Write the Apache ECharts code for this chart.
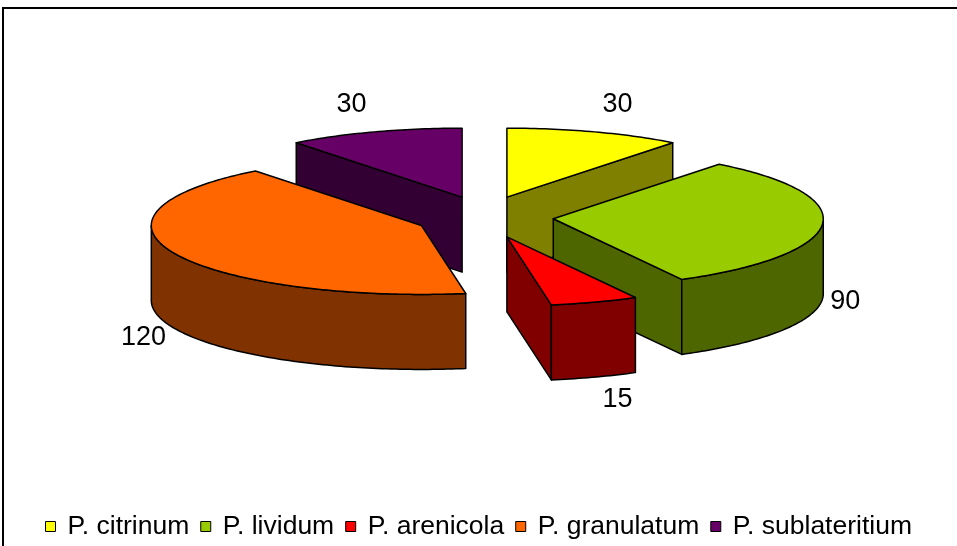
<!DOCTYPE html>
<html>
<head>
<meta charset="utf-8">
<script src="https://cdn.jsdelivr.net/npm/echarts@6/dist/echarts.min.js"></script>
<style>
  html, body { margin: 0; padding: 0; background: #fff; }
  #chart { width: 957px; height: 546px; }
</style>
</head>
<body>
<div id="chart"></div>
<script>
// data
var categories = ['P. citrinum', 'P. lividum', 'P. arenicola', 'P. granulatum', 'P. sublateritium'];
var values = [30, 90, 15, 120, 30];
var labels = values.map(String);

// colours (top face / side faces)
var topColors = ['#FFFF00', '#99CC00', '#FF0000', '#FF6600', '#660066'];
var sideColors = ['#808000', '#4D6600', '#800000', '#803300', '#330033'];

// 3d pie layout, pixels
var CX = 484.5, CY = 217;   // pie centre
var RX = 270, RY = 69;      // ellipse radii of the top face
var H = 75;                 // thickness
var EX = 69, EY = 21;       // explode offset

var total = values.reduce(function (a, b) { return a + b; }, 0);
var slices = [];
var acc = 0;
values.forEach(function (v) {
    var s = acc / total * 2 * Math.PI;
    acc += v;
    var e = acc / total * 2 * Math.PI;
    var m = (s + e) / 2;
    slices.push({ s: s, e: e, m: m, cx: CX + EX * Math.sin(m), cy: CY - EY * Math.cos(m) });
});

// back slices get drawn first
var order = slices.map(function (sl, i) { return i; })
    .sort(function (a, b) { return slices[a].cy - slices[b].cy; });
var rank = [];
order.forEach(function (idx, r) { rank[idx] = r; });

function rim(sl, a, dz) {
    return [sl.cx + RX * Math.sin(a), sl.cy - RY * Math.cos(a) + dz];
}
function arc(sl, a0, a1, dz) {
    var n = Math.max(2, Math.ceil(Math.abs(a1 - a0) / (Math.PI / 180)));
    var pts = [];
    for (var j = 0; j <= n; j++) pts.push(rim(sl, a0 + (a1 - a0) * j / n, dz));
    return pts;
}

function renderSlice(params, api) {
    var i = params.seriesIndex;
    var sl = slices[i];
    var edge = { stroke: '#000', lineWidth: 1.5, lineJoin: 'round' };
    var side = Object.assign({ fill: sideColors[i] }, edge);
    var kids = [];
    var c0 = [sl.cx, sl.cy], c1 = [sl.cx, sl.cy + H];
    // radial faces
    if (Math.sin(sl.s) < -1e-6) {
        kids.push({ type: 'polygon', shape: { points: [c0, rim(sl, sl.s, 0), rim(sl, sl.s, H), c1] }, style: side });
    }
    if (Math.sin(sl.e) > 1e-6) {
        kids.push({ type: 'polygon', shape: { points: [c0, rim(sl, sl.e, 0), rim(sl, sl.e, H), c1] }, style: side });
    }
    // outer wall, front half only
    var f0 = Math.max(sl.s, Math.PI / 2), f1 = Math.min(sl.e, 1.5 * Math.PI);
    if (f1 > f0) {
        kids.push({ type: 'polygon', shape: { points: arc(sl, f0, f1, 0).concat(arc(sl, f1, f0, H)) }, style: side });
    }
    // top
    kids.push({
        type: 'polygon',
        shape: { points: [c0].concat(arc(sl, sl.s, sl.e, 0)) },
        style: Object.assign({ fill: topColors[i] }, edge)
    });
    // value label
    var sn = Math.sin(sl.m), cs = Math.cos(sl.m);
    var p = rim(sl, sl.m, 0);
    var align = Math.abs(sn) < 0.2 ? 'center' : (sn > 0 ? 'left' : 'right');
    kids.push({
        type: 'text',
        x: p[0] + (align === 'center' ? 0 : Math.sign(sn) * 8),
        y: p[1] - cs * 24 + (cs < 0 ? H : -5),
        style: {
            text: labels[i],
            fill: '#000',
            fontSize: 27,
            fontFamily: '"Liberation Sans", Arial, sans-serif',
            align: align,
            verticalAlign: 'middle'
        }
    });
    return { type: 'group', children: kids };
}

var myChart = echarts.init(document.getElementById('chart'));
myChart.setOption({
    backgroundColor: '#fff',
    animation: false,
    graphic: [{ //chart frame
        type: 'rect',
        shape: { x: 3, y: 8, width: 1000, height: 600 },
        style: { fill: 'none', stroke: '#000', lineWidth: 2 },
        z: 0
    }],
    legend: {
        data: categories,
        left: 'center',
        top: 508,
        icon: 'rect',
        itemWidth: 10,
        itemHeight: 10,
        itemGap: 11,
        itemStyle: { borderColor: '#000', borderWidth: 1 },
        textStyle: {
            color: '#000',
            fontSize: 26.5,
            fontFamily: '"Liberation Sans", Arial, sans-serif',
            padding: [0, 0, 0, 7]
        },
        selectedMode: false
    },
    series: categories.map(function (name, i) {
        return {
            type: 'custom',
            name: name,
            coordinateSystem: 'none',
            color: topColors[i],
            itemStyle: { color: topColors[i] },
            z: 2 + rank[i],
            data: [values[i]],
            renderItem: renderSlice
        };
    })
});
</script>
</body>
</html>
